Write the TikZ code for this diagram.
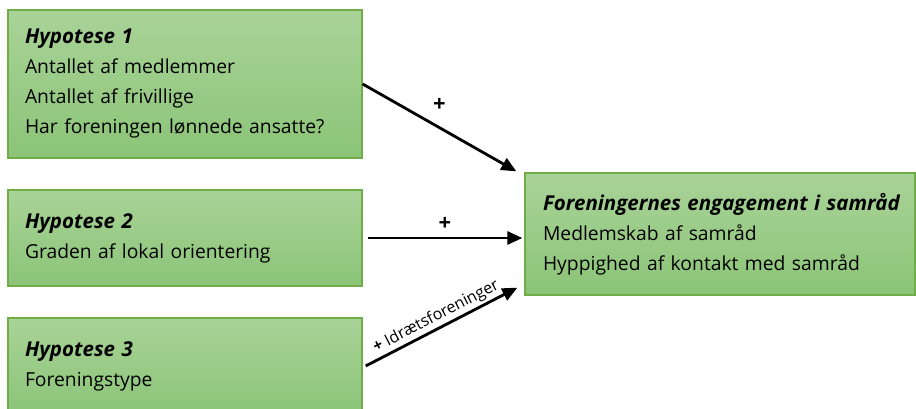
\documentclass[tikz,border=0pt]{standalone}
\usepackage{fontspec}
\setmainfont{Open Sans}
\usetikzlibrary{arrows.meta}
\newcommand{\htitle}[1]{\mbox{\fontsize{20.5}{30}\selectfont\textbf{\textit{#1}}}}
\begin{document}
\begin{tikzpicture}[x=1pt,y=-1pt,
  hbox/.style={draw={rgb,255:red,112;green,173;blue,71}, line width=1.3pt,
    top color={rgb,255:red,169;green,211;blue,152}, bottom color={rgb,255:red,139;green,196;blue,119},
    minimum width=354pt, text width=320pt, align=left, inner sep=0pt,
    font=\fontsize{19.3}{30}\selectfont},
  arr/.style={line width=2.8pt, -{Triangle[length=15pt,width=13pt]}},
  lbl/.style={font=\fontsize{22}{22}\selectfont\bfseries}]
\useasboundingbox (0,0) rectangle (916,409);
\begin{scope}
\clip (0,0) rectangle (916,409);
\node[hbox, minimum height=148pt] (b1) at (185,84) {\htitle{Hypotese 1}\\Antallet af medlemmer\\Antallet af frivillige\\Har foreningen lønnede ansatte?};
\node[hbox, minimum height=96pt] (b2) at (185,238) {\htitle{Hypotese 2}\\Graden af lokal orientering};
\node[hbox, minimum height=96pt] (b3) at (185,366) {\htitle{Hypotese 3}\\Foreningstype};
\node[hbox, minimum width=390pt, text width=354pt, minimum height=122pt] (t) at (720,234) {\htitle{Foreningernes engagement i samråd}\\Medlemskab af samråd\\Hyppighed af kontakt med samråd};
\end{scope}
\draw[arr] (b1.east) -- node[lbl, midway, yshift=23pt]{+} ([xshift=-8pt,yshift=1pt]t.north west);
\draw[arr] ([xshift=5pt]b2.east) -- node[lbl, midway, yshift=14pt]{+} ([xshift=-2pt,yshift=-4pt]t.west);
\draw[arr] ([xshift=3pt]b3.east) -- node[midway, sloped, above, inner sep=2pt, font=\fontsize{16}{18}\selectfont]{\textbf{+} Idrætsforeninger} ([xshift=-7pt,yshift=8pt]t.south west);
\end{tikzpicture}
\end{document}
